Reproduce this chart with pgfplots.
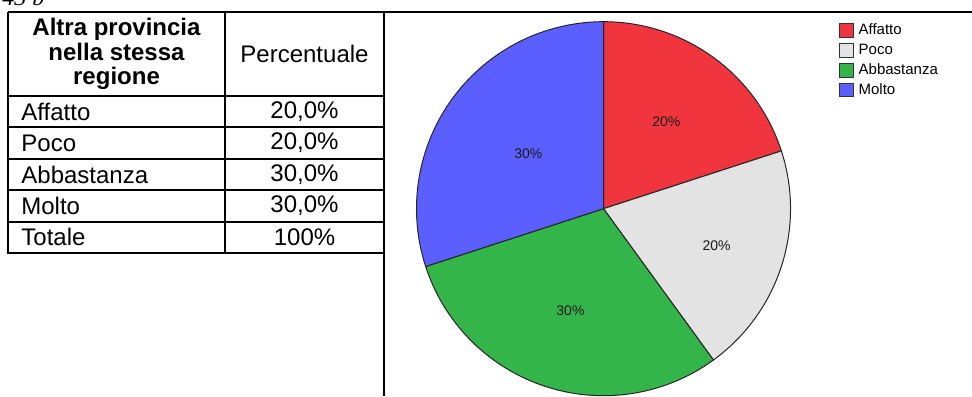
\documentclass[border=0pt]{standalone}
\usepackage{fontspec}
\setmainfont{Liberation Sans}
\newfontfamily\serifit{Liberation Serif}
\usepackage{pgfplots}
\usepackage{pgfplotstable}
\pgfplotsset{compat=1.18}

\definecolor{pie0}{RGB}{241,53,62}
\definecolor{pie1}{RGB}{227,227,227}
\definecolor{pie2}{RGB}{51,181,73}
\definecolor{pie3}{RGB}{91,95,255}

% value = percent, lr = label distance from centre (px)
\pgfplotstableread{
label      value lr
Affatto    20    107
Poco       20    119
Abbastanza 30    107
Molto      30    93
}\piedata

\newcommand\piefont{\fontsize{7pt}{8pt}\selectfont}
\newcommand\tabfont{\fontsize{12pt}{12.4pt}\selectfont}

\begin{document}
\begin{tikzpicture}
\begin{axis}[
    width=486pt, height=198pt, scale only axis,
    xmin=0, xmax=972, ymin=0, ymax=396,
    hide axis, clip=false,
    legend style={
        at={(0.8632,0.9419)}, anchor=north west,
        draw=none, fill=none, inner sep=0pt,
        font=\fontsize{7.5pt}{8pt}\selectfont,
        row sep=2.6pt,
        cells={anchor=west},
        nodes={inner sep=0pt, outer sep=0pt},
        /tikz/every odd column/.append style={column sep=2.3pt},
    },
    legend image code/.code={\draw[#1, draw=black!80, line width=0.5pt] (0pt,-3.4pt) rectangle (6.8pt,3.4pt);},
]
\def\startang{90}
\pgfplotsforeachungrouped \i in {0,...,3}{%
    \pgfplotstablegetelem{\i}{value}\of\piedata
    \pgfmathtruncatemacro\val{\pgfplotsretval}
    \pgfplotstablegetelem{\i}{lr}\of\piedata
    \pgfmathsetmacro\lr{\pgfplotsretval}
    \pgfmathsetmacro\endang{\startang-3.6*\val}
    \pgfmathsetmacro\midang{(\startang+\endang)/2}
    \pgfmathsetmacro\lx{603.5+\lr*cos(\midang)}
    \pgfmathsetmacro\ly{187.3+\lr*sin(\midang)}
    \edef\temp{%
        \noexpand\filldraw[fill=pie\i, draw=black!85, line width=0.5pt]
            (axis cs:603.5,187.3) -- ++(\startang:93.5pt)
            arc[start angle=\startang, end angle=\endang, radius=93.5pt] -- cycle;
        \noexpand\node[font=\noexpand\piefont, text=black!90] at (axis cs:\lx,\ly) {\val\noexpand\%};
    }%
    \temp
    \global\let\startang\endang
}

\addlegendimage{fill=pie0}
\addlegendimage{fill=pie1}
\addlegendimage{fill=pie2}
\addlegendimage{fill=pie3}
\legend{Affatto,Poco,Abbastanza,Molto}

% table beside the chart
\draw[line width=1pt] (axis cs:8,383.5) -- (axis cs:972,383.5);
\draw[line width=1pt] (axis cs:384,383.5) -- (axis cs:384,0);
\draw[line width=1pt] (axis cs:8,383.5) -- (axis cs:8,143) -- (axis cs:384,143);
\draw[line width=1pt] (axis cs:225,383.5) -- (axis cs:225,143);
\draw[line width=1pt] (axis cs:8,300) -- (axis cs:384,300);
\draw[line width=1pt] (axis cs:8,268.6) -- (axis cs:384,268.6);
\draw[line width=1pt] (axis cs:8,237.2) -- (axis cs:384,237.2);
\draw[line width=1pt] (axis cs:8,205.8) -- (axis cs:384,205.8);
\draw[line width=1pt] (axis cs:8,174.4) -- (axis cs:384,174.4);

\node[font=\tabfont\bfseries, align=center] at (axis cs:116.5,342) {Altra provincia\\nella stessa\\regione};
\node[font=\tabfont] at (axis cs:304.5,342) {Percentuale};

\node[font=\tabfont, anchor=west, inner sep=0pt] at (axis cs:21,284.3) {Affatto};
\node[font=\tabfont, anchor=west, inner sep=0pt] at (axis cs:21,252.9) {Poco};
\node[font=\tabfont, anchor=west, inner sep=0pt] at (axis cs:21,221.5) {Abbastanza};
\node[font=\tabfont, anchor=west, inner sep=0pt] at (axis cs:21,190.1) {Molto};
\node[font=\tabfont, anchor=west, inner sep=0pt] at (axis cs:21,158.7) {Totale};

\node[font=\tabfont] at (axis cs:304.5,284.3) {20,0\%};
\node[font=\tabfont] at (axis cs:304.5,252.9) {20,0\%};
\node[font=\tabfont] at (axis cs:304.5,221.5) {30,0\%};
\node[font=\tabfont] at (axis cs:304.5,190.1) {30,0\%};
\node[font=\tabfont] at (axis cs:304.5,158.7) {100\%};

% page text above the table, cut at the top edge as in the reference
\node[font=\serifit\itshape\tabfont, anchor=base west, inner sep=0pt] at (axis cs:2,390) {43 b};
\end{axis}
\pgfresetboundingbox
\useasboundingbox (0,0) rectangle (486pt,198pt);
\end{tikzpicture}
\end{document}
